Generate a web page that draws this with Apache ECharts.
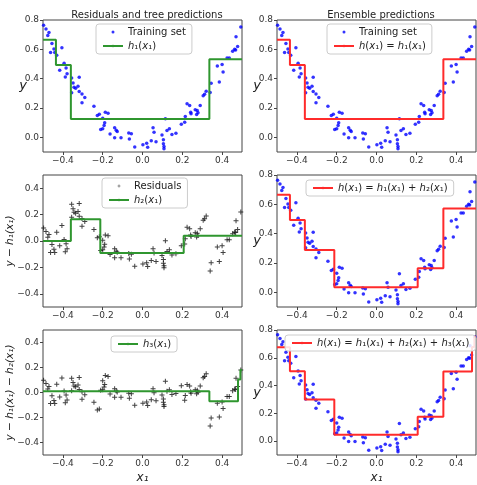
<!DOCTYPE html>
<html>
<head>
<meta charset="utf-8">
<script src="https://cdn.jsdelivr.net/npm/echarts@6/dist/echarts.min.js"></script>
<style>html,body{margin:0;background:#fff}#container{width:477px;height:485px}</style>
</head>
<body>
<div id="container"></div>
<script>
var dom = document.getElementById("container");
var myChart = echarts.init(dom);

// training set
var xs = [-0.497, -0.485, -0.470, -0.476, -0.455, -0.445, -0.441, -0.462, -0.405, -0.431,
    -0.394, -0.416, -0.384, -0.379, -0.388, -0.356, -0.318, -0.349, -0.344, -0.324,
    -0.336, -0.318, -0.304, -0.290, -0.356, -0.304, -0.244, -0.227, -0.217, -0.200,
    -0.187, -0.173, -0.193, -0.200, -0.210, -0.190, -0.163, -0.140, -0.127, -0.132,
    -0.140, -0.108, -0.069, -0.056, -0.066, -0.039,
    0.002, 0.021, 0.026, 0.044, 0.053, 0.058, 0.068, 0.098, 0.105, 0.105,
    0.108, 0.108, 0.115, 0.123, 0.135, 0.148, 0.168, 0.195, 0.212, 0.215,
    0.224, 0.237, 0.242, 0.244, 0.265, 0.275, 0.279, 0.272, 0.290, 0.305,
    0.312, 0.320, 0.340, 0.345, 0.386, 0.376, 0.400, 0.405, 0.425, 0.436,
    0.453, 0.463, 0.468, 0.470, 0.478, 0.494];
var ys = [0.765, 0.738, 0.715, 0.695, 0.640, 0.603, 0.578, 0.578, 0.610, 0.560,
    0.505, 0.457, 0.473, 0.434, 0.411, 0.404, 0.409, 0.370, 0.342, 0.349,
    0.335, 0.313, 0.295, 0.272, 0.304, 0.236, 0.212, 0.149, 0.158, 0.130,
    0.171, 0.164, 0.080, 0.058, 0.053, 0.100, 0.023, 0.066, 0.039, 0.048,
    -0.002, -0.002, 0.030, 0.025, -0.011, -0.066,
    -0.050, -0.040, -0.068, -0.023, 0.066, 0.034, -0.030, 0.016, -0.016, -0.043,
    -0.062, -0.077, 0.126, 0.046, 0.058, 0.019, 0.028, 0.089, 0.103, 0.142,
    0.229, 0.217, 0.171, 0.160, 0.188, 0.183, 0.167, 0.155, 0.217, 0.283,
    0.293, 0.315, 0.305, 0.368, 0.377, 0.486, 0.496, 0.445, 0.541, 0.541,
    0.587, 0.601, 0.596, 0.686, 0.620, 0.752];

// tree predictions: left edge of each leaf and its value
var h1Edges = [-0.5, -0.435, -0.36, 0.336];
var h1Levels = [0.666, 0.493, 0.125, 0.532];
var h2Edges = [-0.5, -0.36, -0.212, 0.207];
var h2Levels = [0.0, 0.164, -0.09, 0.04];
var h3Edges = [-0.5, 0.336, 0.48, 0.492];
var h3Levels = [0.01, -0.07, 0.105, 0.18];
var ens2Edges = [-0.5, -0.435, -0.36, -0.212, 0.207, 0.336];
var ens2Levels = [0.666, 0.493, 0.289, 0.035, 0.165, 0.572];
var ens3Edges = [-0.5, -0.435, -0.36, -0.212, 0.207, 0.336, 0.48, 0.492];
var ens3Levels = [0.676, 0.503, 0.299, 0.045, 0.175, 0.502, 0.677, 0.752];

var xTicks = [-0.4, -0.2, 0, 0.2, 0.4];
var yTicksTop = [0, 0.2, 0.4, 0.6, 0.8];
var yTicksRes = [-0.4, -0.2, 0, 0.2, 0.4];

var FONT = 'DejaVu Sans';
var GREEN = '#2f962f';
var RED = '#ff2b2b';

function stepAt(edges, levels, x) {
    var v = levels[0];
    for (var i = 0; i < edges.length; i++) {
        if (x >= edges[i]) v = levels[i];
    }
    return v;
}
function stepLine(edges, levels) {
    var d = [];
    for (var i = 0; i < edges.length; i++) d.push([edges[i], levels[i]]);
    d.push([0.5, levels[levels.length - 1]]);
    return d;
}

var training = xs.map(function (x, i) { return [x, ys[i]]; });
var resid1 = xs.map(function (x, i) { return [x, ys[i] - stepAt(h1Edges, h1Levels, x)]; });
var resid2 = xs.map(function (x, i) {
    return [x, ys[i] - stepAt(h1Edges, h1Levels, x) - stepAt(h2Edges, h2Levels, x)];
});

function fmt(v) {
    return (v < 0 ? '\u2212' : '') + Math.abs(v).toFixed(1);
}

var cells = [[43, 20], [277, 20], [43, 175], [277, 175], [43, 330], [277, 330]];
var grids = cells.map(function (c) {
    return { left: c[0], top: c[1], width: 199, height: 132, show: true,
        borderColor: '#444', borderWidth: 1 };
});

var xAxes = cells.map(function (c, i) {
    var ax = {
        type: 'value', gridIndex: i, min: -0.5, max: 0.5,
        axisLine: { show: false, onZero: false },
        splitLine: { show: false },
        axisTick: { show: true, customValues: xTicks, length: 3, lineStyle: { color: '#444' } },
        axisLabel: { customValues: xTicks, formatter: fmt, fontSize: 9, color: '#333', margin: 4, fontFamily: FONT }
    };
    if (i >= 4) {
        ax.name = 'x\u2081';
        ax.nameLocation = 'middle';
        ax.nameGap = 17;
        ax.nameMoveOverlap = false;
        ax.nameTextStyle = { fontSize: 12, fontStyle: 'italic', color: '#222', fontFamily: FONT };
    }
    return ax;
});

var yNames = ['y', 'y', 'y \u2212 h\u2081(x\u2081)', 'y', 'y \u2212 h\u2081(x\u2081) \u2212 h\u2082(x\u2081)', 'y'];
var yAxes = cells.map(function (c, i) {
    var res = (i === 2 || i === 4);
    var ticks = res ? yTicksRes : yTicksTop;
    return {
        type: 'value', gridIndex: i,
        min: res ? -0.5 : -0.1, max: res ? 0.5 : 0.8,
        axisLine: { show: false, onZero: false },
        splitLine: { show: false },
        axisTick: { show: true, customValues: ticks, length: 3, lineStyle: { color: '#444' } },
        axisLabel: { customValues: ticks, formatter: fmt, fontSize: 9, color: '#333', margin: 4, fontFamily: FONT },
        name: yNames[i],
        nameLocation: 'middle',
        nameRotate: res ? 90 : 0,
        nameGap: res ? 27 : 16,
        nameMoveOverlap: false,
        nameTextStyle: { fontSize: res ? 10.5 : 13, fontStyle: 'italic', color: '#222', fontFamily: FONT }
    };
});

var plusPath = 'path://M4,0L6,0L6,4L10,4L10,6L6,6L6,10L4,10L4,6L0,6L0,4L4,4Z';

function dots(i, name) {
    return { name: name, type: 'scatter', xAxisIndex: i, yAxisIndex: i, data: training,
        symbol: 'circle', symbolSize: 3.5, itemStyle: { color: '#0000ff' }, silent: true, animation: false };
}
function pluses(i, name, data) {
    return { name: name, type: 'scatter', xAxisIndex: i, yAxisIndex: i, data: data,
        symbol: plusPath, symbolSize: 5, itemStyle: { color: '#111' }, silent: true, animation: false };
}
function steps(i, name, edges, levels, color) {
    return { name: name, type: 'line', xAxisIndex: i, yAxisIndex: i, data: stepLine(edges, levels),
        step: 'end', symbol: 'none', lineStyle: { color: color, width: 2 }, itemStyle: { color: color },
        silent: true, animation: false, z: 3 };
}

var nH1 = 'h\u2081(x\u2081)';
var nH2 = 'h\u2082(x\u2081)';
var nH3 = 'h\u2083(x\u2081)';
var nE1 = 'h(x\u2081) = h\u2081(x\u2081)';
var nE2 = 'h(x\u2081) = h\u2081(x\u2081) + h\u2082(x\u2081)';
var nE3 = 'h(x\u2081) = h\u2081(x\u2081) + h\u2082(x\u2081) + h\u2083(x\u2081)';

function legend(left, top, names) {
    return {
        left: left, top: top, orient: 'vertical', data: names,
        itemWidth: 20, itemHeight: 3, itemGap: 4, padding: [3, 6, 3, 6],
        backgroundColor: 'rgba(255,255,255,0.85)', borderColor: '#ccc', borderWidth: 1, borderRadius: 3,
        selectedMode: false,
        textStyle: { fontSize: 10, color: '#222', fontFamily: FONT, rich: { i: { fontSize: 10, fontStyle: 'italic', color: '#222', fontFamily: FONT } } },
        formatter: function (n) {
            if (n === 'Training set' || n === 'Residuals') return n;
            return n.replace(/([hxy])/g, '{i|$1}');
        }
    };
}

var option = {
    backgroundColor: '#fff',
    animation: false,
    title: [
        { text: 'Residuals and tree predictions', left: 142, top: 5, textAlign: 'center',
          textStyle: { fontSize: 10, fontWeight: 'normal', color: '#222', fontFamily: FONT } },
        { text: 'Ensemble predictions', left: 376, top: 5, textAlign: 'center',
          textStyle: { fontSize: 10, fontWeight: 'normal', color: '#222', fontFamily: FONT } }
    ],
    grid: grids,
    xAxis: xAxes,
    yAxis: yAxes,
    legend: [
        legend(96, 24, ['Training set', nH1]),
        legend(327, 24, ['Training set', nE1]),
        legend(102, 178, ['Residuals', nH2]),
        legend(306, 180, [nE2]),
        legend(111, 336, [nH3]),
        legend(285, 335, [nE3])
    ],
    series: [
        dots(0, 'Training set'),
        steps(0, nH1, h1Edges, h1Levels, GREEN),
        dots(1, 'Training set'),
        steps(1, nE1, h1Edges, h1Levels, RED),
        pluses(2, 'Residuals', resid1),
        steps(2, nH2, h2Edges, h2Levels, GREEN),
        dots(3, 'Training set'),
        steps(3, nE2, ens2Edges, ens2Levels, RED),
        pluses(4, 'Residuals 2', resid2),
        steps(4, nH3, h3Edges, h3Levels, GREEN),
        dots(5, 'Training set'),
        steps(5, nE3, ens3Edges, ens3Levels, RED)
    ]
};

myChart.setOption(option);
</script>
</body>
</html>
